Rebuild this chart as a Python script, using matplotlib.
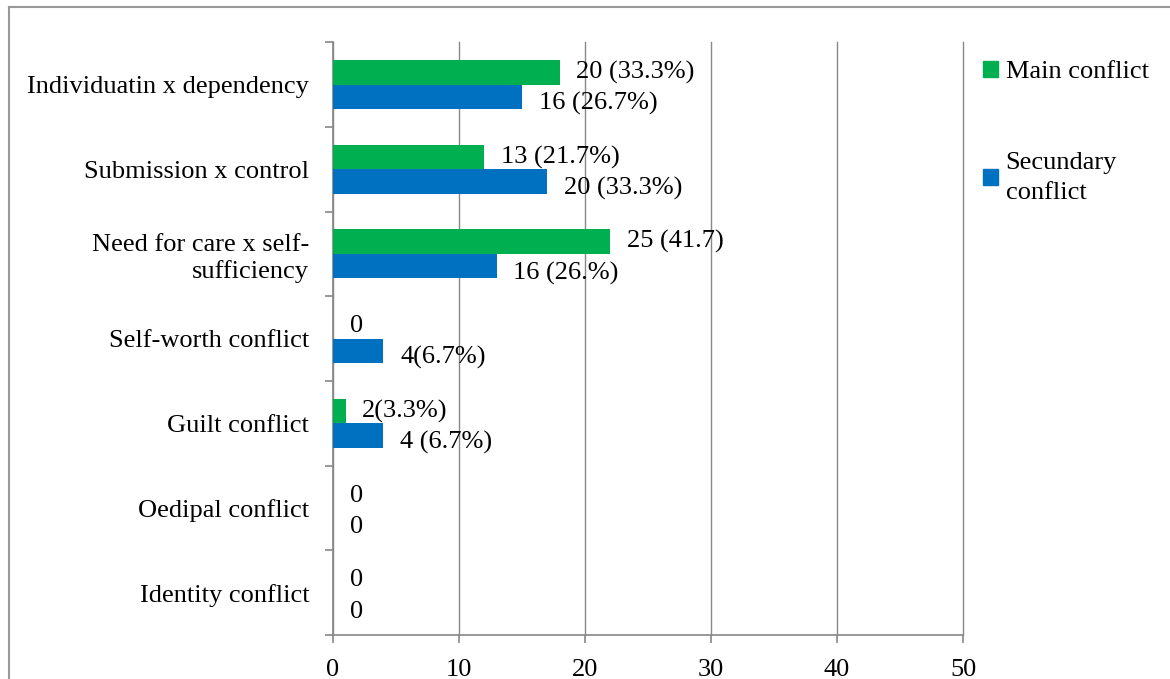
import matplotlib.pyplot as plt
from matplotlib.lines import Line2D
from matplotlib.patches import Patch

plt.rcParams['font.family'] = ['Liberation Serif', 'DejaVu Serif']

categories = ['Individuatin x dependency', 'Submission x control',
              'Need for care x self-\nsufficiency', 'Self-worth conflict',
              'Guilt conflict', 'Oedipal conflict', 'Identity conflict']
main_vals = [18, 12, 22, 0, 1, 0, 0]
second_vals = [15, 17, 13, 4, 4, 0, 0]
main_labels = ['20 (33.3%)', '13 (21.7%)', '25 (41.7)', '0', '2(3.3%)', '0', '0']
second_labels = ['16 (26.7%)', '20 (33.3%)', '16 (26.%)', '4(6.7%)', '4 (6.7%)', '0', '0']

green = '#00B050'
blue = '#0070C0'
fs = 19

fig = plt.figure(figsize=(11.7, 6.79), dpi=100)
ax = fig.add_axes([0.2846, 0.0648, 0.5385, 0.873])

y = list(range(len(categories)))
h = 0.29
ax.barh([i - h / 2 for i in y], main_vals, height=h, color=green, linewidth=0, zorder=3)
ax.barh([i + h / 2 for i in y], second_vals, height=h, color=blue, linewidth=0, zorder=3)

for i in y:
    ax.annotate(main_labels[i], (main_vals[i], i - h / 2), xytext=(12, 0), textcoords='offset points',
                va='center', ha='left', fontsize=fs)
    ax.annotate(second_labels[i], (second_vals[i], i + h / 2), xytext=(12, -5), textcoords='offset points',
                va='center', ha='left', fontsize=fs)

ax.set_xlim(0, 50)
ax.set_ylim(len(categories) - 0.5, -0.5)
ax.set_xticks(range(0, 51, 10))
ax.set_yticks(y)
ax.set_yticklabels(categories, fontsize=fs)
ax.set_yticks([i - 0.5 for i in range(len(categories) + 1)], minor=True)
ax.tick_params(axis='y', which='major', length=0, pad=17)
ax.tick_params(axis='y', which='minor', length=6, color='#888888', width=1.2)
ax.tick_params(axis='x', length=6, color='#888888', width=1.2, labelsize=fs, pad=11)
ax.grid(axis='x', color='#888888', linewidth=1, zorder=0)
for gl in ax.get_xgridlines():
    gl.set_clip_on(False)
for s in ['top', 'right']:
    ax.spines[s].set_visible(False)
for s in ['left', 'bottom']:
    ax.spines[s].set_color('#888888')
    ax.spines[s].set_linewidth(1.2)

handles = [Patch(color=green), Patch(color=blue)]
leg = fig.legend(handles, ['Main conflict', 'Secundary\nconflict'], loc='upper left',
                 bbox_to_anchor=(0.82, 0.945), frameon=False, fontsize=fs,
                 handlelength=0.55, handleheight=0.55, handletextpad=0.3, labelspacing=2.6)
for t in leg.get_texts():
    t.set_linespacing(1.45)

fig.add_artist(Line2D([0.0075, 1], [0.99, 0.99], color='#999999', linewidth=1.5))
fig.add_artist(Line2D([0.0075, 0.0075], [0, 0.99], color='#999999', linewidth=1.5))

fig.savefig('out.png', dpi=100)
